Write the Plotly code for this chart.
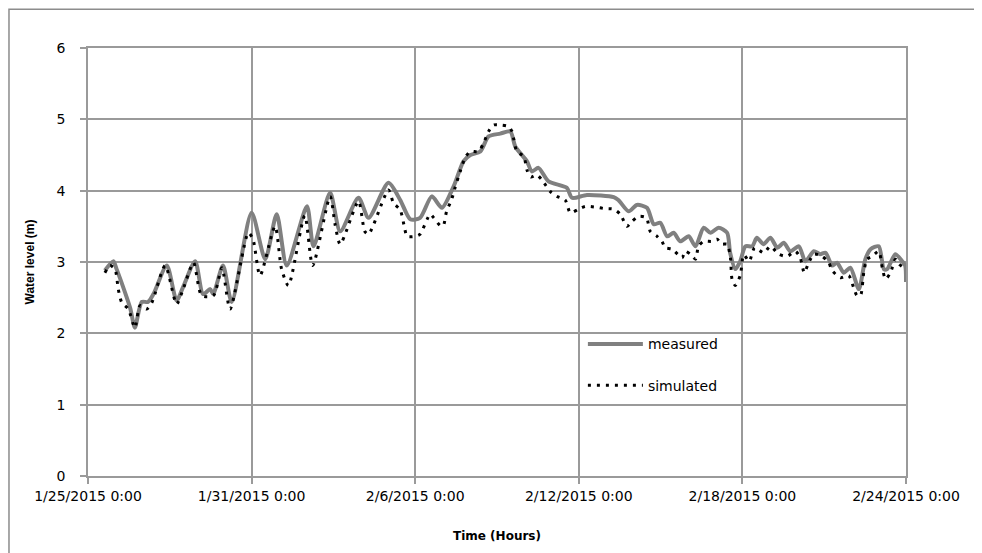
import plotly.graph_objs as go
import pandas as pd

# Water level readings, time given in days after 1/25/2015 0:00
measured_days = [0.62, 0.93, 1.05, 1.36, 1.55, 1.72, 1.97, 2.2, 2.4, 2.89,
                 3.25, 3.49, 3.93, 4.22, 4.48, 4.59, 4.95, 5.27, 6.0, 6.5,
                 6.92, 7.29, 8.03, 8.27, 8.88, 9.25, 9.92, 10.29, 11.02, 11.45,
                 11.82, 12.18, 12.61, 12.98, 13.41, 13.77, 14.02, 14.39, 14.69, 15.12,
                 15.49, 15.67, 16.1, 16.28, 16.52, 16.89, 17.56, 17.75, 18.3, 19.28,
                 19.45, 19.83, 20.13, 20.5, 20.75, 20.99, 21.24, 21.48, 21.72, 22.03,
                 22.28, 22.58, 22.83, 23.13, 23.44, 23.55, 23.74, 23.92, 24.11, 24.36,
                 24.53, 24.77, 25.03, 25.28, 25.52, 25.76, 26.07, 26.31, 26.62, 26.85,
                 27.05, 27.29, 27.47, 27.72, 27.96, 28.27, 28.51, 28.7, 29.0, 29.19,
                 29.31, 29.61, 29.86, 29.97, 30.0]
measured_level = [2.88, 3.01, 2.90, 2.57, 2.35, 2.08, 2.44, 2.44, 2.55, 2.95,
                  2.46, 2.65, 3.01, 2.55, 2.62, 2.55, 2.95, 2.44, 3.69, 3.04,
                  3.67, 2.95, 3.78, 3.22, 3.97, 3.43, 3.90, 3.62, 4.11, 3.87,
                  3.60, 3.62, 3.92, 3.76, 4.06, 4.41, 4.50, 4.55, 4.76, 4.80,
                  4.83, 4.62, 4.41, 4.27, 4.32, 4.13, 4.04, 3.90, 3.94, 3.91,
                  3.87, 3.71, 3.80, 3.76, 3.53, 3.55, 3.36, 3.41, 3.29, 3.36,
                  3.22, 3.48, 3.41, 3.48, 3.41, 3.13, 2.90, 3.01, 3.22, 3.22,
                  3.34, 3.25, 3.34, 3.20, 3.27, 3.15, 3.22, 3.01, 3.15, 3.11,
                  3.13, 2.95, 2.99, 2.85, 2.92, 2.62, 3.04, 3.18, 3.22, 2.90,
                  2.90, 3.11, 3.01, 2.95, 2.72]

simulated_days = [0.62, 0.81, 0.99, 1.11, 1.24, 1.48, 1.72, 1.91, 2.15, 2.34,
                  2.83, 3.25, 3.49, 3.87, 4.17, 4.6, 4.91, 5.21, 5.88, 6.05,
                  6.31, 6.86, 7.1, 7.35, 7.95, 8.24, 8.88, 9.06, 9.25, 9.92,
                  10.15, 10.29, 11.02, 11.2, 11.45, 11.62, 11.7, 12.0, 12.18, 12.55,
                  12.68, 12.92, 13.03, 13.15, 13.33, 13.46, 13.65, 13.83, 14.02, 14.32,
                  14.5, 14.69, 14.87, 15.17, 15.42, 15.55, 15.61, 15.73, 15.98, 16.1,
                  16.24, 16.46, 16.65, 16.95, 17.2, 17.5, 17.69, 17.99, 18.24, 18.6,
                  18.91, 19.28, 19.52, 19.77, 19.95, 20.2, 20.48, 20.62, 20.87, 21.05,
                  21.17, 21.42, 21.79, 21.9, 22.09, 22.28, 22.39, 22.58, 22.89, 23.07,
                  23.25, 23.44, 23.56, 23.62, 23.74, 23.92, 24.05, 24.25, 24.45, 24.78,
                  25.03, 25.33, 25.64, 25.94, 26.12, 26.27, 26.43, 26.62, 26.92, 27.17,
                  27.29, 27.6, 27.9, 28.08, 28.2, 28.33, 28.45, 28.57, 28.76, 29.0,
                  29.13, 29.25, 29.43, 29.61, 29.74, 30.0]
simulated_level = [2.85, 2.95, 2.90, 2.62, 2.43, 2.34, 2.08, 2.39, 2.34, 2.43,
                   2.95, 2.41, 2.62, 2.99, 2.53, 2.53, 2.92, 2.34, 3.41, 3.32,
                   2.81, 3.50, 2.90, 2.67, 3.65, 2.95, 3.92, 3.53, 3.25, 3.85,
                   3.43, 3.39, 4.01, 3.83, 3.73, 3.46, 3.36, 3.36, 3.39, 3.67,
                   3.62, 3.51, 3.51, 3.71, 3.87, 4.04, 4.27, 4.46, 4.55, 4.55,
                   4.66, 4.83, 4.92, 4.92, 4.90, 4.83, 4.73, 4.55, 4.48, 4.29,
                   4.19, 4.22, 4.15, 3.99, 3.92, 3.87, 3.69, 3.74, 3.78, 3.77,
                   3.75, 3.74, 3.67, 3.50, 3.57, 3.64, 3.62, 3.43, 3.36, 3.29,
                   3.20, 3.18, 3.06, 3.15, 3.11, 3.04, 3.22, 3.29, 3.29, 3.32,
                   3.25, 3.25, 3.06, 2.76, 2.67, 2.81, 3.10, 3.01, 3.20, 3.13,
                   3.22, 3.11, 3.08, 3.15, 3.06, 2.85, 2.99, 3.11, 3.08, 2.99,
                   2.88, 2.78, 2.81, 2.64, 2.53, 2.53, 2.85, 3.04, 3.08, 3.15,
                   2.92, 2.76, 2.85, 3.04, 2.97, 2.90]

tick_dates = ['2015-01-25', '2015-01-31', '2015-02-06', '2015-02-12', '2015-02-18', '2015-02-24']
tick_labels = ['1/25/2015 0:00', '1/31/2015 0:00', '2/6/2015 0:00',
               '2/12/2015 0:00', '2/18/2015 0:00', '2/24/2015 0:00']

start = pd.Timestamp('2015-01-25')
measured_time = [start + pd.Timedelta(days=d) for d in measured_days]
simulated_time = [start + pd.Timedelta(days=d) for d in simulated_days]

GRID = '#9a9a9a'

fig = go.Figure()

fig.add_trace(go.Scatter(
    x=measured_time, y=measured_level,
    mode='lines', name='measured',
    line=dict(color='#808080', width=4, shape='spline', smoothing=0.7),
    legendgroup='m'
))

fig.add_trace(go.Scatter(
    x=simulated_time, y=simulated_level,
    mode='lines', name='simulated',
    line=dict(color='#000000', width=3, dash='3px,6px', shape='spline', smoothing=0.7),
    legendgroup='s'
))

fig.update_xaxes(
    range=[tick_dates[0], tick_dates[-1]],
    tickvals=tick_dates,
    ticktext=tick_labels,
    showgrid=True, gridcolor=GRID, gridwidth=1.5,
    showline=True, linecolor=GRID, linewidth=1.5, mirror=True,
    ticks='outside', ticklen=6, tickcolor=GRID, tickwidth=1.5,
    tickfont=dict(family='DejaVu Sans', size=14, color='#000000'),
    title=dict(text='<b>Time (Hours)</b>', standoff=29,
               font=dict(family='DejaVu Sans', size=12, color='#000000')),
    zeroline=False
)

fig.update_yaxes(
    range=[0, 6],
    dtick=1,
    showgrid=True, gridcolor=GRID, gridwidth=1.5,
    showline=True, linecolor=GRID, linewidth=1.5, mirror=True,
    ticks='outside', ticklen=6, tickcolor=GRID, tickwidth=1.5,
    ticklabelstandoff=12,
    tickfont=dict(family='DejaVu Sans', size=14, color='#000000'),
    title=dict(text='<b>Water level (m)</b>', standoff=19,
               font=dict(family='Liberation Sans Narrow, Liberation Sans', size=12, color='#000000')),
    zeroline=False
)

# outer chart frame (only left and top edges fall inside the picture)
fig.add_shape(type='rect', xref='paper', yref='paper',
              x0=-0.0966, x1=1.3, y0=-0.3, y1=1.0907,
              line=dict(color='#8c8c8c', width=1.5))

# page body adds an 8px offset, so the figure is sized to fit the window
fig.update_layout(
    width=974, height=545,
    plot_bgcolor='#ffffff',
    paper_bgcolor='#ffffff',
    margin=dict(l=80, r=76, t=40, b=75),
    showlegend=True,
    legend=dict(
        x=0.605, y=0.345, xanchor='left', yanchor='top',
        bgcolor='rgba(255,255,255,0)',
        font=dict(family='DejaVu Sans', size=14, color='#000000'),
        tracegroupgap=20,
        itemwidth=55
    )
)

fig.write_html("out.html")
